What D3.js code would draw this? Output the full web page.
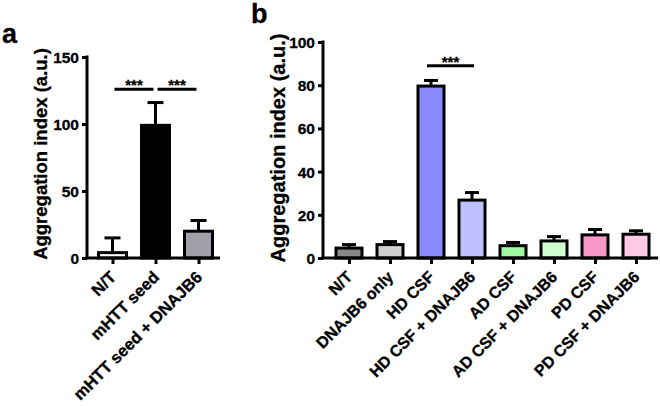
<!DOCTYPE html>
<html><head><meta charset="utf-8">
<script src="https://cdn.jsdelivr.net/npm/d3@7"></script>
<style>
body{margin:0;background:#fff;}
text{font-family:"Liberation Sans",Arial,sans-serif;font-weight:bold;stroke:#000;stroke-width:0.3px;}
</style></head>
<body><svg id="c" width="660" height="406"></svg>
<script>
// Panel a data
const catsA = ["N/T", "mHTT seed", "mHTT seed + DNAJB6"];
const meanA = [4, 99, 20];
const errA = [15, 116, 28];
const colA = ["#ffffff", "#000000", "#a0a0a8"];
const ticksA = [0, 50, 100, 150];
const sigA = [[0, 1, 126, "***"], [1, 2, 126, "***"]];

// Panel b data
const catsB = ["N/T", "DNAJB6 only", "HD CSF", "HD CSF + DNAJB6", "AD CSF", "AD CSF + DNAJB6", "PD CSF", "PD CSF + DNAJB6"];
const meanB = [4.6, 6.2, 79.6, 26.8, 5.7, 7.9, 10.7, 11.0];
const errB = [6.2, 7.6, 82.2, 30.3, 7.2, 9.9, 13.2, 12.6];
const colB = ["#888888", "#d0d0d0", "#8888ff", "#c0c0ff", "#a0f8a0", "#d0ffd0", "#f898c8", "#ffc8e6"];
const ticksB = [0, 20, 40, 60, 80, 100];
const sigB = [[2, 3, 89, "***"]];

const svg = d3.select("#c");

function panel(o) {
  const g = svg.append("g");
  const x = d3.scalePoint().domain(o.cats).range(o.xr).padding(0.5);
  const y = d3.scaleLinear().domain([0, o.ymax]).range([258, o.ytop]);
  // bars
  g.selectAll("rect.bar").data(o.cats).enter().append("rect")
    .attr("x", d => x(d) - o.bw / 2)
    .attr("y", (d, i) => y(o.mean[i]))
    .attr("width", o.bw)
    .attr("height", (d, i) => y(0) - y(o.mean[i]))
    .attr("fill", (d, i) => o.col[i])
    .attr("stroke", "#000").attr("stroke-width", 3);
  // error bars
  o.cats.forEach((c, i) => {
    g.append("line").attr("x1", x(c)).attr("x2", x(c))
      .attr("y1", y(o.mean[i])).attr("y2", y(o.err[i]))
      .attr("stroke", "#000").attr("stroke-width", 3);
    g.append("line").attr("x1", x(c) - o.cap).attr("x2", x(c) + o.cap)
      .attr("y1", y(o.err[i])).attr("y2", y(o.err[i]))
      .attr("stroke", "#000").attr("stroke-width", 3);
  });
  // y axis
  const ya = g.append("g").attr("transform", `translate(${o.x0},0)`)
    .call(d3.axisLeft(y).tickValues(o.ticks).tickSize(5).tickPadding(3).tickFormat(d3.format("d")));
  ya.select(".domain").attr("stroke-width", 3).attr("d", `M0,${y(0)}V${y(o.ymax) - 1.5}`);
  ya.selectAll(".tick line").attr("stroke-width", 3).attr("x2", -5);
  ya.selectAll("text").attr("font-size", 15.5).attr("fill", "#000").attr("dy", "0.36em");
  // x axis
  const xa = g.append("g").attr("transform", `translate(0,258)`)
    .call(d3.axisBottom(x).tickSize(6).tickPadding(4));
  xa.select(".domain").attr("stroke-width", 3).attr("d", `M${o.x0 - 1.5},0H${o.xend}`);
  xa.selectAll(".tick line").attr("stroke-width", 3);
  xa.selectAll("text").attr("font-size", o.xfs).attr("fill", "#000")
    .attr("text-anchor", "end")
    .attr("transform", o.xlt)
    .attr("dy", "0.7em").attr("y", 0).attr("x", 0);
  // y title
  g.append("text").attr("transform", `translate(${o.tx},${o.ty}) rotate(-90)`)
    .attr("text-anchor", "middle").attr("font-size", o.tfs).text("Aggregation index (a.u.)");
  // panel letter
  g.append("text").attr("x", o.lx).attr("y", o.ly).attr("font-size", 27).text(o.letter);
  // significance
  o.sig.forEach(s => {
    const xa1 = x(o.cats[s[0]]) + o.sigOff[0], xa2 = x(o.cats[s[1]]) + o.sigOff[1];
    g.append("line").attr("x1", xa1).attr("x2", xa2).attr("y1", y(s[2])).attr("y2", y(s[2]))
      .attr("stroke", "#000").attr("stroke-width", 3);
    g.append("text").attr("x", (xa1 + xa2) / 2).attr("y", y(s[2]) + 1)
      .attr("text-anchor", "middle").attr("font-size", 15).text(s[3]);
  });
}

panel({cats: catsA, mean: meanA, err: errA, col: colA, ticks: ticksA, ymax: 150, ytop: 57,
  xr: [91, 220], x0: 87, xend: 220, bw: 28, cap: 8, tx: 47, ty: 154, tfs: 18.5, xfs: 16.5, xlt: "translate(-4,12) rotate(-45)",
  lx: 2, ly: 43, letter: "a", sig: sigA, sigOff: [2, -2]});
panel({cats: catsB, mean: meanB, err: errB, col: colB, ticks: ticksB, ymax: 100, ytop: 42,
  xr: [328.5, 656.5], x0: 323, xend: 658, bw: 26, cap: 7, tx: 285, ty: 148, tfs: 20, xfs: 16, xlt: "translate(-4,12) rotate(-45)",
  lx: 251, ly: 23, letter: "b", sig: sigB, sigOff: [-4, 2]});
</script></body></html>
